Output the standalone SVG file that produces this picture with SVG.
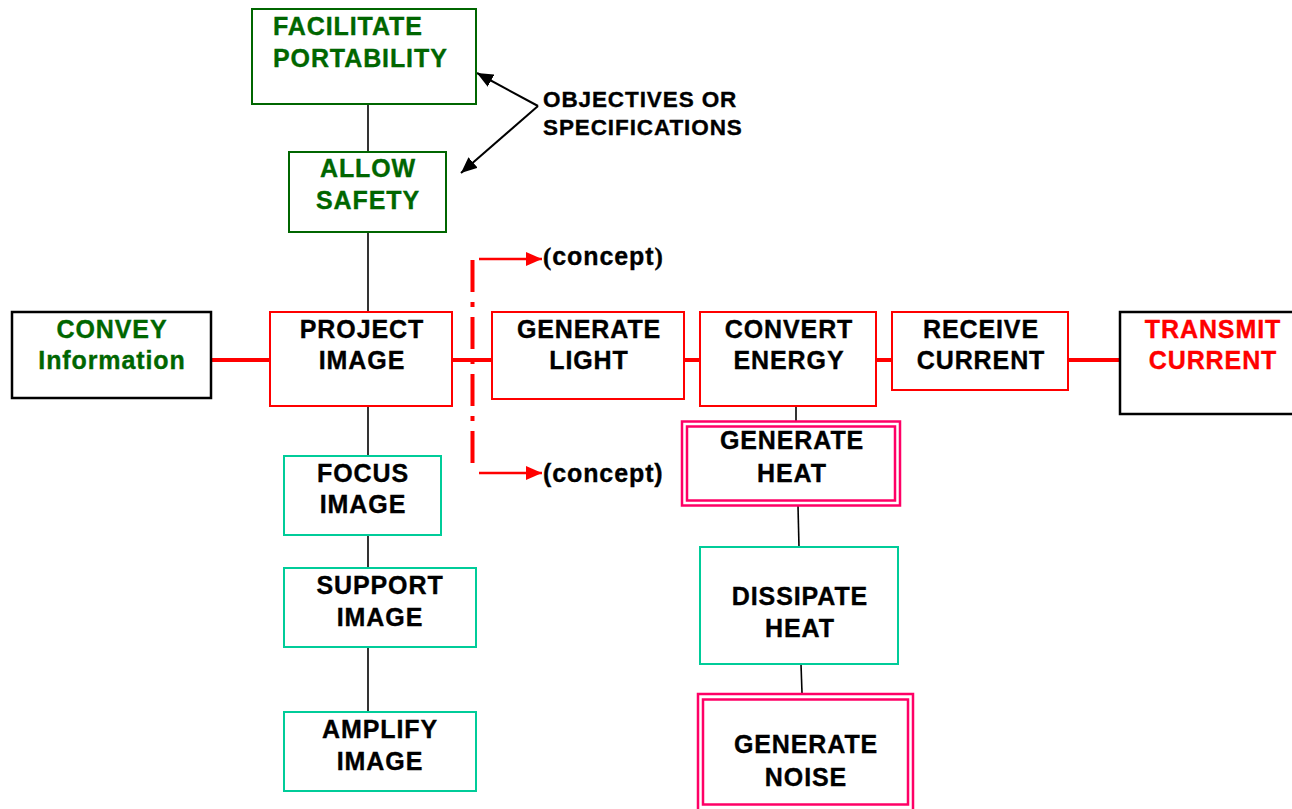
<svg xmlns="http://www.w3.org/2000/svg" width="1292" height="809" viewBox="0 0 1292 809">
<style>
text{font-family:"Liberation Sans",Arial,sans-serif;font-weight:bold;font-size:25px;letter-spacing:0.9px;stroke-width:0.35px}
.c{text-anchor:middle}
.k{fill:#000;stroke:#000}
.g{fill:#006600;stroke:#006600}
.r{fill:#ff0000;stroke:#ff0000}
.bx{fill:#fff;stroke-width:2}
.gb{stroke:#006600}
.rb{stroke:#ff0000}
.tb{stroke:#00cc99}
.kb{stroke:#000;stroke-width:2.5}
.pb{fill:none;stroke:#ff0066;stroke-width:2.5}
.thin{stroke:#000;stroke-width:1.6;fill:none}
.red{stroke:#ff0000;stroke-width:4;fill:none}
.obj{font-size:22.5px;letter-spacing:0.9px}
</style>
<defs>
<marker id="ak" viewBox="0 0 16 14" refX="16" refY="7" markerWidth="16" markerHeight="14" markerUnits="userSpaceOnUse" orient="auto"><path d="M0,0L16,7L0,14z" fill="#000"/></marker>
<marker id="ar" viewBox="0 0 16 14" refX="16" refY="7" markerWidth="16" markerHeight="14" markerUnits="userSpaceOnUse" orient="auto"><path d="M0,0L16,7L0,14z" fill="#ff0000"/></marker>
</defs>
<rect width="1292" height="809" fill="#fff"/>

<g id="connectors">
<line class="thin" x1="368" y1="104" x2="368" y2="152"/>
<line class="thin" x1="368" y1="232" x2="368" y2="312"/>
<line class="thin" x1="368" y1="406" x2="368" y2="456"/>
<line class="thin" x1="368" y1="535" x2="368" y2="568"/>
<line class="thin" x1="368" y1="647" x2="368" y2="712"/>
<line class="thin" x1="796" y1="406" x2="796" y2="421"/>
<line class="thin" x1="798" y1="506" x2="799" y2="547"/>
<line class="thin" x1="801" y1="664" x2="802" y2="693"/>
<line class="red" x1="211" y1="360" x2="270" y2="360"/>
<line class="red" x1="452" y1="360" x2="492" y2="360"/>
<line class="red" x1="684" y1="360" x2="700" y2="360"/>
<line class="red" x1="876" y1="360" x2="892" y2="360"/>
<line class="red" x1="1068" y1="360" x2="1120" y2="360"/>
<line x1="472.5" y1="260" x2="472.5" y2="470" stroke="#ff0000" stroke-width="4" stroke-dasharray="32 10 5 10"/>
<line x1="479" y1="259" x2="542" y2="259" stroke="#ff0000" stroke-width="2.5" marker-end="url(#ar)"/>
<line x1="479" y1="473" x2="542" y2="473" stroke="#ff0000" stroke-width="2.5" marker-end="url(#ar)"/>
<line x1="538" y1="106" x2="477" y2="73" stroke="#000" stroke-width="2" marker-end="url(#ak)"/>
<line x1="538" y1="106" x2="461" y2="173" stroke="#000" stroke-width="2" marker-end="url(#ak)"/>
</g>

<g id="objectives-label">
<text class="k obj" x="543" y="107">OBJECTIVES OR</text>
<text class="k obj" x="543" y="135">SPECIFICATIONS</text>
</g>

<g id="concept-top">
<text class="k" x="543" y="265"><tspan font-family="Liberation Serif,serif">(</tspan>concept<tspan font-family="Liberation Serif,serif">)</tspan></text>
</g>
<g id="concept-bottom">
<text class="k" x="543" y="482">(concept)</text>
</g>

<g id="facilitate-portability">
<rect class="bx gb" x="252" y="9" width="224" height="95"/>
<text class="g" x="273" y="35">FACILITATE</text>
<text class="g" x="273" y="67">PORTABILITY</text>
</g>

<g id="allow-safety">
<rect class="bx gb" x="289" y="152" width="157" height="80"/>
<text class="g c" x="368" y="177">ALLOW</text>
<text class="g c" x="368" y="209">SAFETY</text>
</g>

<g id="convey-information">
<rect class="bx kb" x="12" y="312" width="199" height="86"/>
<text class="g c" x="112" y="338">CONVEY</text>
<text class="g c" x="112" y="369">Information</text>
</g>

<g id="project-image">
<rect class="bx rb" x="270" y="312" width="182" height="94"/>
<text class="k c" x="362" y="338">PROJECT</text>
<text class="k c" x="362" y="369">IMAGE</text>
</g>

<g id="generate-light">
<rect class="bx rb" x="492" y="312" width="192" height="87"/>
<text class="k c" x="589" y="338">GENERATE</text>
<text class="k c" x="589" y="369">LIGHT</text>
</g>

<g id="convert-energy">
<rect class="bx rb" x="700" y="312" width="176" height="94"/>
<text class="k c" x="789" y="338">CONVERT</text>
<text class="k c" x="789" y="369">ENERGY</text>
</g>

<g id="receive-current">
<rect class="bx rb" x="892" y="312" width="176" height="78"/>
<text class="k c" x="981" y="338">RECEIVE</text>
<text class="k c" x="981" y="369">CURRENT</text>
</g>

<g id="transmit-current">
<rect class="bx kb" x="1120" y="312" width="190" height="102"/>
<text class="r c" x="1213" y="338">TRANSMIT</text>
<text class="r c" x="1213" y="369">CURRENT</text>
</g>

<g id="focus-image">
<rect class="bx tb" x="284" y="456" width="157" height="79"/>
<text class="k c" x="363" y="482">FOCUS</text>
<text class="k c" x="363" y="513">IMAGE</text>
</g>

<g id="support-image">
<rect class="bx tb" x="284" y="568" width="192" height="79"/>
<text class="k c" x="380" y="594">SUPPORT</text>
<text class="k c" x="380" y="626">IMAGE</text>
</g>

<g id="amplify-image">
<rect class="bx tb" x="284" y="712" width="192" height="79"/>
<text class="k c" x="380" y="738">AMPLIFY</text>
<text class="k c" x="380" y="770">IMAGE</text>
</g>

<g id="generate-heat">
<rect x="681" y="421" width="220" height="85" fill="#fff"/>
<rect class="pb" x="682" y="421.5" width="218" height="84"/>
<rect class="pb" x="687" y="426.5" width="208" height="74"/>
<text class="k c" x="792" y="449">GENERATE</text>
<text class="k c" x="792" y="482">HEAT</text>
</g>

<g id="dissipate-heat">
<rect class="bx tb" x="700" y="547" width="198" height="117"/>
<text class="k c" x="800" y="605">DISSIPATE</text>
<text class="k c" x="800" y="637">HEAT</text>
</g>

<g id="generate-noise">
<rect x="697" y="693" width="217" height="120" fill="#fff"/>
<rect class="pb" x="698" y="694" width="215" height="118"/>
<rect class="pb" x="703" y="699.5" width="205" height="105"/>
<text class="k c" x="806" y="753">GENERATE</text>
<text class="k c" x="806" y="786">NOISE</text>
</g>
</svg>
